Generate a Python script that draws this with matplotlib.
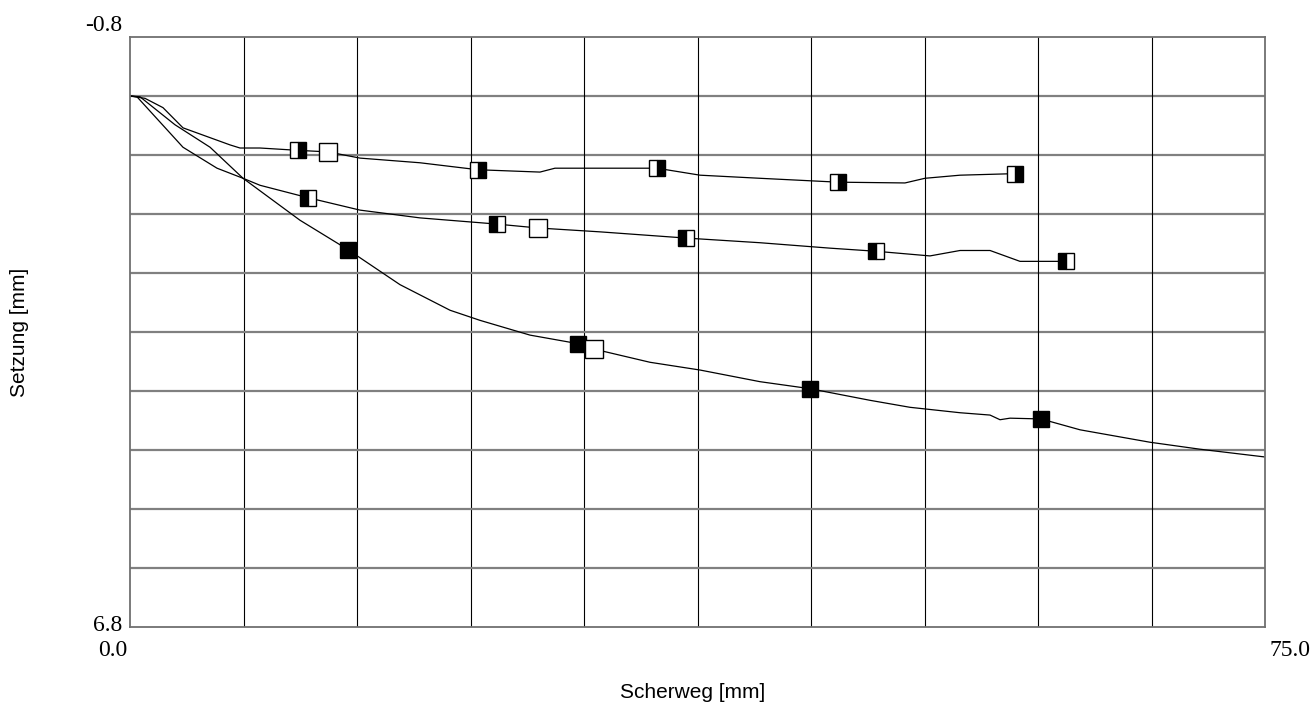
import matplotlib.pyplot as plt

# Kurven (Scherweg [mm], Setzung [mm])
x_oben = [0.0, 0.99, 2.18, 3.50, 6.61, 7.27, 8.59, 11.10, 13.08, 15.20, 19.16, 23.00,
          27.09, 28.08, 31.06, 34.82, 37.67, 41.63, 46.79, 51.21, 52.53, 54.85, 58.48]
y_oben = [-0.04, -0.01, 0.11, 0.37, 0.59, 0.63, 0.63, 0.66, 0.68, 0.76, 0.82, 0.91,
          0.94, 0.89, 0.89, 0.89, 0.98, 1.02, 1.07, 1.08, 1.02, 0.98, 0.96]

x_mitte = [0.0, 0.46, 3.50, 5.75, 7.47, 8.59, 11.76, 15.20, 19.16, 24.25, 26.96, 31.06,
           36.74, 41.63, 46.26, 49.30, 52.86, 54.85, 56.83, 58.81, 61.85]
y_mitte = [-0.04, -0.03, 0.62, 0.89, 1.02, 1.11, 1.27, 1.43, 1.53, 1.61, 1.66, 1.71,
           1.79, 1.85, 1.92, 1.96, 2.02, 1.95, 1.95, 2.09, 2.09]

x_unten = [0.0, 0.66, 2.97, 5.29, 7.47, 11.23, 14.41, 17.84, 21.15, 23.13, 26.43, 29.60,
           30.66, 34.36, 37.67, 41.63, 44.93, 48.90, 51.54, 54.85, 56.83, 57.49, 58.15,
           60.20, 62.78, 67.40, 70.71, 75.0]
y_unten = [-0.04, -0.03, 0.33, 0.62, 1.02, 1.56, 1.94, 2.39, 2.72, 2.85, 3.04, 3.15,
           3.22, 3.39, 3.49, 3.64, 3.73, 3.88, 3.97, 4.04, 4.07, 4.13, 4.11,
           4.12, 4.26, 4.42, 4.51, 4.61]

# Markierungen
mx_oben = [11.10, 23.00, 34.82, 46.79, 58.48]
my_oben = [0.66, 0.91, 0.89, 1.07, 0.96]
mx_mitte = [11.76, 24.25, 36.74, 49.30, 61.85]
my_mitte = [1.27, 1.61, 1.79, 1.96, 2.09]
mx_unten = [14.41, 29.60, 44.93, 60.20]
my_unten = [1.94, 3.15, 3.73, 4.12]

# offene Quadrate
ox = [13.08, 26.96, 30.66]
oy = [0.68, 1.66, 3.22]

x_min, x_max = 0.0, 75.0
y_min, y_max = -0.8, 6.8

fig = plt.figure(figsize=(13.16, 7.08), dpi=100)
ax = fig.add_axes([130 / 1316, 1 - 627 / 708, 1135 / 1316, 590 / 708])

for i in range(1, 10):
    ax.axvline(x_min + i * 7.5, color="black", lw=0.8, zorder=1)
    ax.axhline(y_min + i * 0.76, color="#808080", lw=1.6, zorder=1)

for xs, ys in [(x_oben, y_oben), (x_mitte, y_mitte), (x_unten, y_unten)]:
    ax.plot(xs, ys, color="black", lw=0.9, zorder=2)

ax.plot(mx_oben, my_oben, ls="none", marker="s", ms=11, fillstyle="right",
        markerfacecolor="black", markerfacecoloralt="white", markeredgecolor="black",
        markeredgewidth=1, zorder=3)
ax.plot(mx_mitte, my_mitte, ls="none", marker="s", ms=11, fillstyle="left",
        markerfacecolor="black", markerfacecoloralt="white", markeredgecolor="black",
        markeredgewidth=1, zorder=3)
ax.plot(mx_unten, my_unten, ls="none", marker="s", ms=11, color="black", zorder=3)
ax.plot(ox, oy, ls="none", marker="s", ms=13, markerfacecolor="white",
        markeredgecolor="black", markeredgewidth=1, zorder=3)

ax.set_xlim(x_min, x_max)
ax.set_ylim(y_max, y_min)
ax.set_xticks([])
ax.set_yticks([])
for s in ax.spines.values():
    s.set_color("#707070")
    s.set_linewidth(1.3)

serif = dict(family="Liberation Serif", fontsize=17)
ax.text(-0.007, 1.020, f"{y_min:.1f}", transform=ax.transAxes, ha="right", va="center", **serif)
ax.text(-0.007, 0.002, f"{y_max:.1f}", transform=ax.transAxes, ha="right", va="center", **serif)
ax.text(-0.002, -0.040, f"{x_min:.1f}", transform=ax.transAxes, ha="right", va="center", **serif)
ax.text(1.004, -0.040, f"{x_max:.1f}", transform=ax.transAxes, ha="left", va="center", **serif)

fig.text(693 / 1316, 1 - 692 / 708, "Scherweg [mm]", family="Liberation Sans",
         fontsize=15, ha="center", va="center")
fig.text(20 / 1316, 1 - 332 / 708, "Setzung [mm]", family="Liberation Sans",
         fontsize=15, ha="center", va="center", rotation=90)

fig.savefig("out.png", dpi=100)
